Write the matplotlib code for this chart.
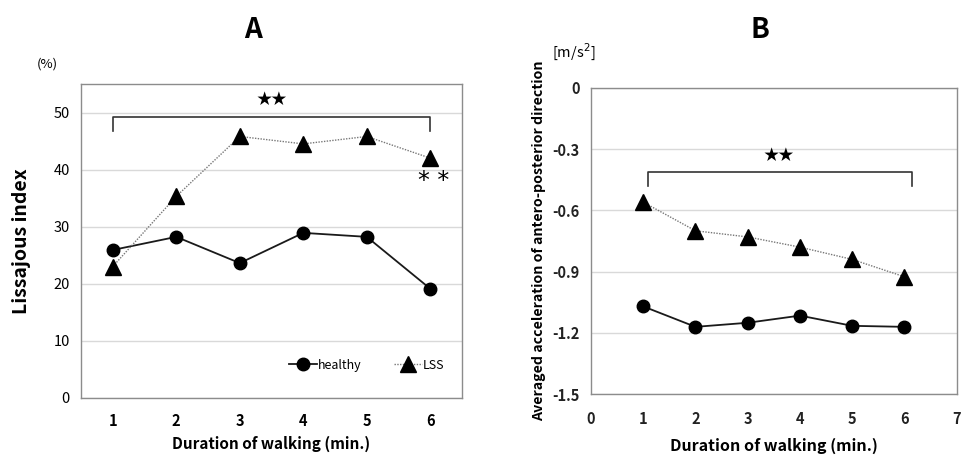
import matplotlib
matplotlib.use("Agg")
import matplotlib.pyplot as plt
from matplotlib.lines import Line2D

plt.rcParams['font.family'] = ['Noto Sans CJK JP', 'DejaVu Sans']

minutes = [1, 2, 3, 4, 5, 6]
lissajous_healthy = [25.9, 28.2, 23.6, 28.9, 28.2, 19.1]
lissajous_lss = [23.0, 35.3, 45.8, 44.5, 45.8, 42.0]
accel_healthy = [-1.07, -1.17, -1.15, -1.115, -1.165, -1.17]
accel_lss = [-0.56, -0.70, -0.73, -0.78, -0.84, -0.925]

a_yticks = [0, 10, 20, 30, 40, 50]
b_yticks = [0, -0.3, -0.6, -0.9, -1.2, -1.5]
b_ytick_labels = ['0', '-0.3', '-0.6', '-0.9', '-1.2', '-1.5']
b_xticks = [0, 1, 2, 3, 4, 5, 6, 7]

fig = plt.figure(figsize=(9.61, 4.61), dpi=100)
axA = fig.add_axes([0.0843, 0.1373, 0.3965, 0.6805])
axB = fig.add_axes([0.615, 0.1447, 0.3805, 0.665])

grid_c = '#d9d9d9'
spine_c = '#8c8c8c'

def style(ax):
    for s in ax.spines.values():
        s.set_color(spine_c)
        s.set_linewidth(1.0)
    ax.tick_params(length=0, pad=8, labelsize=10.5)
    ax.yaxis.grid(True, color=grid_c, linewidth=1.0)
    ax.set_axisbelow(True)

# Panel A
style(axA)
axA.tick_params(axis='x', pad=11)
axA.plot(minutes, lissajous_healthy, color='#1a1a1a', lw=1.3, marker='o', ms=9, mfc='black', mec='black', zorder=3)
axA.plot(minutes, lissajous_lss, color='#777777', lw=1.0, ls=(0, (1, 1)), marker='^', ms=11, mfc='black', mec='black', zorder=3)
axA.set_xlim(0.5, 6.5)
axA.set_ylim(0, 55)
axA.set_yticks(a_yticks)
axA.set_xticks(minutes)
for lbl in axA.get_xticklabels():
    lbl.set_fontweight('bold')
axA.set_xlabel('Duration of walking (min.)', fontsize=11, fontweight='bold', labelpad=5)
axA.set_ylabel('Lissajous index', fontsize=14, fontweight='bold', labelpad=16)
axA.plot([1, 1, 6, 6], [46.7, 49.2, 49.2, 46.7], color='#333333', lw=1.2)
axA.text(3.5, 52.2, '★★', ha='center', va='center', fontsize=11)
axA.text(6.05, 38.0, '* *', ha='center', va='center', fontsize=17, family=['DejaVu Sans'])
h1 = Line2D([0], [0], color='#1a1a1a', lw=1.3, marker='o', ms=9, mfc='black', mec='black')
h2 = Line2D([0], [0], color='#777777', lw=1.0, ls=(0, (1, 1)), marker='^', ms=11, mfc='black', mec='black')
axA.legend([h1, h2], ['healthy', 'LSS'], ncol=2, frameon=False, loc='center',
           bbox_to_anchor=(0.75, 0.104), fontsize=9, handlelength=2.2,
           handletextpad=0.1, columnspacing=2.6)
fig.text(37 / 961, 1 - 64 / 461, '(%)', fontsize=9.5, va='center', ha='left')
fig.text(253 / 961, 1 - 30 / 461, 'A', fontsize=20, fontweight='bold', ha='center', va='center')

# Panel B
style(axB)
axB.tick_params(axis='x', pad=12)
axB.plot(minutes, accel_healthy, color='#1a1a1a', lw=1.3, marker='o', ms=9, mfc='black', mec='black', zorder=3)
axB.plot(minutes, accel_lss, color='#777777', lw=1.0, ls=(0, (1, 1)), marker='^', ms=11, mfc='black', mec='black', zorder=3)
axB.set_xlim(0, 7)
axB.set_ylim(-1.5, 0)
axB.set_yticks(b_yticks)
axB.set_yticklabels(b_ytick_labels)
axB.set_xticks(b_xticks)
for lbl in axB.get_xticklabels() + axB.get_yticklabels():
    lbl.set_fontweight('bold')
    lbl.set_color('#222222')
axB.set_xlabel('Duration of walking (min.)', fontsize=11.5, fontweight='bold', labelpad=8)
axB.set_ylabel('Averaged acceleration of antero-posterior direction', fontsize=10.2,
               fontweight='bold', labelpad=5)
axB.plot([1.1, 1.1, 6.15, 6.15], [-0.48, -0.411, -0.411, -0.48], color='#333333', lw=1.2)
axB.text(3.6, -0.33, '★★', ha='center', va='center', fontsize=11)
fig.text(552 / 961, 1 - 52 / 461, '[m/s$^2$]', fontsize=10.5, va='center', ha='left')
fig.text(760 / 961, 1 - 30 / 461, 'B', fontsize=20, fontweight='bold', ha='center', va='center')

fig.savefig('out.png', dpi=100, facecolor='white')
